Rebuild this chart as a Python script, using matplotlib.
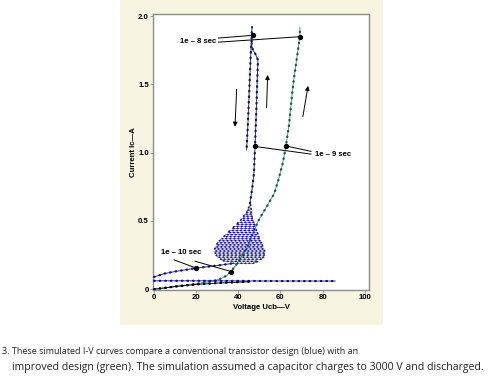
import matplotlib
matplotlib.use('Agg')
import matplotlib.pyplot as plt
from matplotlib.patches import Rectangle

# conventional design (blue) - vertical branches
blue_up_x = [45.5, 46.5, 47.4, 47.9, 48.5, 49.0, 49.3, 48.2, 47.0, 46.3, 46.3, 46.5]
blue_up_y = [0.63, 0.73, 0.85, 1.04, 1.30, 1.55, 1.68, 1.72, 1.75, 1.78, 1.86, 1.92]
blue_down_x = [46.5, 46.0, 45.3, 44.5, 43.9]
blue_down_y = [1.86, 1.76, 1.50, 1.20, 1.02]

# oscillation blob rows (left/right ends)
blob_y = [0.19, 0.205, 0.22, 0.235, 0.25, 0.265, 0.28, 0.295, 0.31, 0.325, 0.34, 0.355,
          0.37, 0.385, 0.40, 0.415, 0.43, 0.445, 0.46, 0.475, 0.49, 0.505, 0.52, 0.535,
          0.55, 0.565, 0.58, 0.595, 0.61, 0.625]
blob_left = [37.5, 33.5, 31.5, 30.2, 29.5, 29.0, 28.8, 28.8, 29.0, 29.5, 30.2, 31.0,
             32.0, 33.0, 34.0, 35.0, 36.0, 37.0, 38.0, 39.0, 40.0, 41.0, 41.8, 42.5,
             43.2, 43.8, 44.3, 44.8, 45.2, 45.5]
blob_right = [47.0, 49.5, 51.0, 52.0, 52.5, 52.5, 52.5, 52.2, 51.8, 51.4, 51.0, 50.6,
              50.2, 49.8, 49.4, 49.0, 48.6, 48.3, 48.0, 47.7, 47.4, 47.1, 46.9, 46.7,
              46.5, 46.3, 46.1, 46.0, 45.9, 45.7]

# lower blue traces
blue_knee_x = [0, 5, 10, 20, 28, 33, 37.5]
blue_knee_y = [0.09, 0.115, 0.13, 0.155, 0.17, 0.18, 0.19]
blue_flat_x = [0, 20, 40, 60, 86]
blue_flat_y = [0.062, 0.062, 0.061, 0.06, 0.06]
blue_low_x = [0, 10, 20, 30, 40, 45]
blue_low_y = [0.0, 0.02, 0.035, 0.045, 0.052, 0.055]

# improved design (green)
green_x = [0, 10, 20, 28, 32, 34.5, 37.5, 39, 44, 49.4, 54, 57, 59, 61, 62.5, 64, 66, 68, 69.2, 69.2]
green_y = [0.0, 0.02, 0.04, 0.06, 0.08, 0.10, 0.15, 0.18, 0.30, 0.50, 0.62, 0.70, 0.80, 0.92,
           1.04, 1.20, 1.50, 1.72, 1.85, 1.92]

xticks = [0, 20, 40, 60, 80, 100]
yticks = [0, 0.5, 1.0, 1.5, 2.0]
ytick_labels = ['0', '0.5', '1.0', '1.5', '2.0']

BLUE = '#33339a'
BLUE_DOT = '#141460'
GREEN = '#4fa590'
GREEN_DOT = '#1d5a48'
CREAM = '#f7f5e2'

plt.rcParams['font.family'] = ['Liberation Sans', 'DejaVu Sans']

fig = plt.figure(figsize=(4.92, 3.83), dpi=100)
fig.patches.append(Rectangle((0.244, 0.151), 0.535, 0.849, transform=fig.transFigure,
                             facecolor=CREAM, edgecolor='none', zorder=-5))
ax = fig.add_axes([0.311, 0.243, 0.439, 0.72])


def dotted(x, y, line, dot, z=2):
    ax.plot(x, y, color=line, lw=0.7, zorder=z)
    ax.plot(x, y, color=dot, lw=1.6, linestyle=(0, (0.3, 2.2)),
            dash_capstyle='round', zorder=z)


dotted(green_x, green_y, GREEN, GREEN_DOT, z=2)

# blob as zigzag between row ends
zx, zy = [], []
for i, yv in enumerate(blob_y):
    if i % 2 == 0:
        zx += [blob_left[i], blob_right[i]]
    else:
        zx += [blob_right[i], blob_left[i]]
    zy += [yv, yv]
ax.plot(zx, zy, color='#6b6bc4', lw=0.5, zorder=3)
ax.plot(zx, zy, color='#1e1e78', lw=1.2, linestyle=(0, (0.4, 2.0)),
        dash_capstyle='round', zorder=3)

dotted(blue_up_x, blue_up_y, BLUE, BLUE_DOT, z=3)
dotted(blue_down_x, blue_down_y, BLUE, BLUE_DOT, z=3)
dotted(blue_knee_x, blue_knee_y, BLUE, BLUE_DOT, z=3)
dotted(blue_flat_x, blue_flat_y, BLUE, BLUE_DOT, z=3)
dotted(blue_low_x, blue_low_y, '#111133', '#000000', z=3)

# time markers
fs = 5.6
ax.plot([46.8, 69.2, 47.9, 62.5, 20.0, 36.5], [1.86, 1.85, 1.046, 1.05, 0.155, 0.13],
        'o', color='black', ms=2.8, zorder=5)
ax.plot([30.5, 46.8], [1.84, 1.86], color='black', lw=0.7, zorder=5)
ax.plot([30.5, 69.2], [1.81, 1.85], color='black', lw=0.7, zorder=5)
ax.text(20.7, 1.815, '1e – 8 sec', fontsize=fs, fontweight='bold', ha='center', va='center')
ax.plot([47.9, 74.5], [1.046, 0.99], color='black', lw=0.7, zorder=5)
ax.plot([62.5, 74.5], [1.05, 1.01], color='black', lw=0.7, zorder=5)
ax.text(76.3, 0.99, '1e – 9 sec', fontsize=fs, fontweight='bold', ha='left', va='center')
ax.plot([9.5, 20.0], [0.215, 0.155], color='black', lw=0.7, zorder=5)
ax.plot([19.5, 36.5], [0.205, 0.13], color='black', lw=0.7, zorder=5)
ax.text(13.0, 0.268, '1e – 10 sec', fontsize=fs, fontweight='bold', ha='center', va='center')

# direction arrows
for (x0, y0, x1, y1) in [(39.2, 1.465, 38.4, 1.19), (53.4, 1.33, 53.9, 1.57),
                         (70.6, 1.265, 73.1, 1.49)]:
    ax.annotate('', xy=(x1, y1), xytext=(x0, y0),
                arrowprops=dict(arrowstyle='-|>', lw=0.7, color='black',
                                mutation_scale=6.5, shrinkA=0, shrinkB=0))

ax.set_xlim(-0.5, 102)
ax.set_ylim(-0.005, 2.015)
ax.set_xticks(xticks)
ax.set_xticklabels([str(t) for t in xticks])
ax.set_yticks(yticks)
ax.set_yticklabels(ytick_labels)
ax.tick_params(labelsize=fs, length=2, width=0.6, color='#888888', pad=1)
for lbl in ax.get_xticklabels() + ax.get_yticklabels():
    lbl.set_fontweight('bold')
for sp in ax.spines.values():
    sp.set_color('#8c8c8c')
    sp.set_linewidth(1.0)
ax.set_xlabel('Voltage Ucb—V', fontsize=fs, fontweight='bold', labelpad=2)
ax.set_ylabel('Current Ic—A', fontsize=fs, fontweight='bold', labelpad=1)

fig.text(0.004, 0.082, '3. These simulated I-V curves compare a conventional transistor design (blue) with an',
         fontsize=6.5, family=['Open Sans', 'DejaVu Sans'], va='center', color='#222222')
fig.text(0.024, 0.04, 'improved design (green). The simulation assumed a capacitor charges to 3000 V and discharged.',
         fontsize=7.6, family=['Open Sans', 'DejaVu Sans'], va='center', color='#222222')

fig.savefig('out.png', dpi=100)
